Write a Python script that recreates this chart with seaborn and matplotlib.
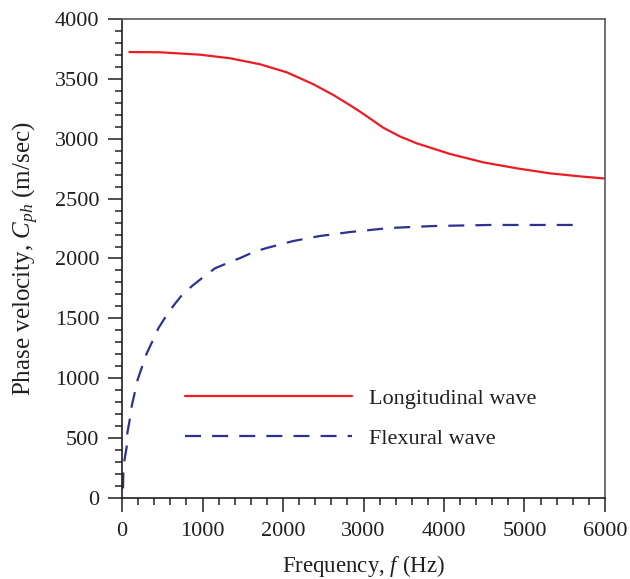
import matplotlib
matplotlib.use("Agg")
import matplotlib.pyplot as plt
from matplotlib.ticker import MultipleLocator
import pandas as pd
import seaborn as sns

# Phase velocity dispersion curves
freq_long = [91, 472, 969, 1342, 1714, 2046, 2377, 2626, 2832, 2957, 3100, 3246, 3450,
             3660, 4075, 4488, 4903, 5317, 5700, 6000]
vel_long = [3724, 3722, 3702, 3672, 3622, 3555, 3455, 3365, 3280, 3226, 3160, 3092, 3020,
            2962, 2873, 2803, 2753, 2711, 2685, 2668]

freq_flex = [12, 16, 29, 58, 66, 99, 120, 161, 195, 257, 307, 389, 451, 555, 646, 761,
             886, 1031, 1155, 1321, 1478, 1643, 1800, 2128, 2460, 2832, 3330, 3863,
             4571, 5600]
vel_flex = [80, 210, 311, 428, 542, 668, 768, 888, 991, 1111, 1208, 1325, 1417, 1528,
            1612, 1709, 1779, 1856, 1918, 1965, 2007, 2057, 2088, 2146, 2188, 2221,
            2255, 2271, 2280, 2280]

series_names = ["Longitudinal wave", "Flexural wave"]
x_ticks = [0, 1000, 2000, 3000, 4000, 5000, 6000]
y_ticks = [0, 500, 1000, 1500, 2000, 2500, 3000, 3500, 4000]

sns.set_theme(style="ticks")
plt.rcParams["font.family"] = ["Liberation Serif", "DejaVu Serif"]
plt.rcParams["mathtext.fontset"] = "custom"
plt.rcParams["mathtext.rm"] = "Liberation Serif"
plt.rcParams["mathtext.it"] = "Liberation Serif:italic"

ink = "#231f20"
red = "#ed1c24"
navy = "#2e3192"

df_long = pd.DataFrame({"f": freq_long, "v": vel_long})
df_flex = pd.DataFrame({"f": freq_flex, "v": vel_flex})

fig = plt.figure(figsize=(6.30, 5.79), dpi=100)
ax = fig.add_axes([0.1937, 0.1399, 0.9603 - 0.1937, 0.9672 - 0.1399])

sns.lineplot(data=df_long, x="f", y="v", ax=ax, color=red, linewidth=1.6,
             label=series_names[0], sort=False)
sns.lineplot(data=df_flex, x="f", y="v", ax=ax, color=navy, linewidth=1.6,
             label=series_names[1], sort=False)
ax.lines[1].set_dashes([7.2, 5.0])

ax.set_xlim(0, 6000)
ax.set_ylim(0, 4000)
ax.set_xticks(x_ticks)
ax.set_yticks(y_ticks)
ax.xaxis.set_minor_locator(MultipleLocator(200))
ax.yaxis.set_minor_locator(MultipleLocator(100))

ax.tick_params(axis="both", which="major", direction="out", length=10, width=1.1,
               labelsize=16, color=ink, labelcolor=ink)
ax.tick_params(axis="x", which="major", pad=7)
ax.tick_params(axis="y", which="major", pad=6.5)
ax.tick_params(axis="both", which="minor", direction="out", length=5, width=1.1,
               color=ink)
ax.tick_params(top=False, right=False, which="both")

for side in ["left", "bottom"]:
    ax.spines[side].set_linewidth(1.2)
    ax.spines[side].set_color(ink)
for side in ["top", "right"]:
    ax.spines[side].set_visible(True)
    ax.spines[side].set_linewidth(1.2)
    ax.spines[side].set_color("#58595b")

ax.set_xlabel("Frequency, $f$ (Hz)", fontsize=16.5, color=ink, labelpad=9)
ax.set_ylabel("Phase velocity, $C_{ph}$ (m/sec)", fontsize=18, color=ink, labelpad=10)

leg = ax.legend(loc="lower left", bbox_to_anchor=(0.089, 0.061), frameon=False,
                fontsize=16, handlelength=7.5, handletextpad=0.8, labelspacing=0.87,
                labelcolor=ink)

fig.savefig("out.png", dpi=100)
